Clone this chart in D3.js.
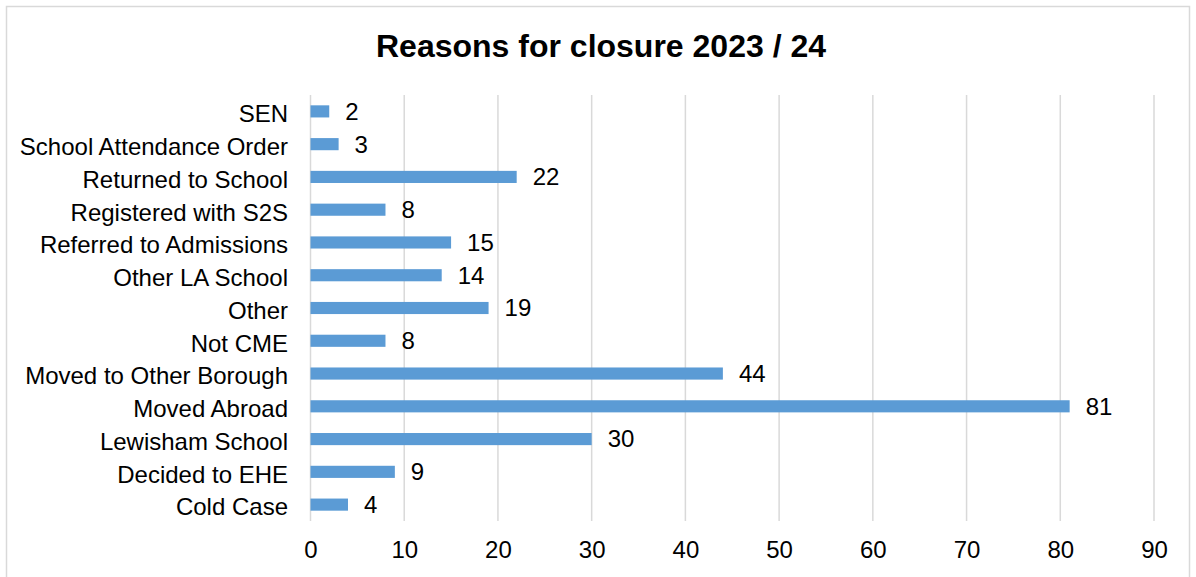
<!DOCTYPE html>
<html>
<head>
<meta charset="utf-8">
<script src="https://cdn.jsdelivr.net/npm/d3@7/dist/d3.min.js"></script>
<style>
  html, body { margin: 0; padding: 0; background: #fff; }
  svg { display: block; font-family: "Liberation Sans", Arial, sans-serif; }
</style>
</head>
<body>
<svg id="chart" width="1196" height="577"></svg>
<script>
const categories = ["SEN", "School Attendance Order", "Returned to School", "Registered with S2S",
  "Referred to Admissions", "Other LA School", "Other", "Not CME", "Moved to Other Borough",
  "Moved Abroad", "Lewisham School", "Decided to EHE", "Cold Case"];
const values = [2, 3, 22, 8, 15, 14, 19, 8, 44, 81, 30, 9, 4];
const xTicks = [0, 10, 20, 30, 40, 50, 60, 70, 80, 90];
const title = "Reasons for closure 2023 / 24";

const svg = d3.select("#chart");
const W = 1196, H = 577;
const FONT = "Liberation Sans, Arial, sans-serif";

svg.append("rect").attr("x", 6.5).attr("y", 6.5).attr("width", W - 13).attr("height", H + 10)
  .attr("fill", "#fff").attr("stroke", "#d9d9d9").attr("stroke-width", 1.5);

svg.append("text").attr("x", 601).attr("y", 57).attr("text-anchor", "middle")
  .attr("font-size", 32).attr("font-weight", "bold").attr("fill", "#000").text(title);

const x = d3.scaleLinear().domain([0, 90]).range([310.5, 1154]);
const y = d3.scaleBand().domain(categories).range([95, 521]).paddingInner(0.63).paddingOuter(0.315);

// gridlines
svg.append("g").selectAll("line").data(xTicks).join("line")
  .attr("x1", d => x(d)).attr("x2", d => x(d)).attr("y1", 95).attr("y2", 521)
  .attr("stroke", "#d9d9d9").attr("stroke-width", 1.5);

// bars
svg.append("g").selectAll("rect").data(values).join("rect")
  .attr("x", x(0)).attr("y", (d, i) => y(categories[i]))
  .attr("width", d => x(d) - x(0)).attr("height", y.bandwidth())
  .attr("fill", "#5b9bd5");

// value labels
svg.append("g").selectAll("text").data(values).join("text")
  .attr("x", d => x(d) + 16).attr("y", (d, i) => y(categories[i]) + y.bandwidth() / 2)
  .attr("dy", "0.35em").attr("font-size", 24).attr("fill", "#000").text(d => d);

// y axis labels
const yAxis = d3.axisLeft(y).tickSize(0).tickPadding(0);
const gy = svg.append("g").attr("transform", "translate(288,0)").call(yAxis);
gy.select(".domain").remove();
gy.selectAll("text").attr("font-size", 24).attr("fill", "#000").attr("font-family", FONT)
  .attr("dy", "0.45em");

// x axis labels
const xAxis = d3.axisBottom(x).tickValues(xTicks).tickSize(0).tickPadding(0);
const gx = svg.append("g").attr("transform", "translate(0,541)").call(xAxis);
gx.select(".domain").remove();
gx.selectAll("text").attr("font-size", 24).attr("fill", "#000").attr("font-family", FONT);
</script>
</body>
</html>
